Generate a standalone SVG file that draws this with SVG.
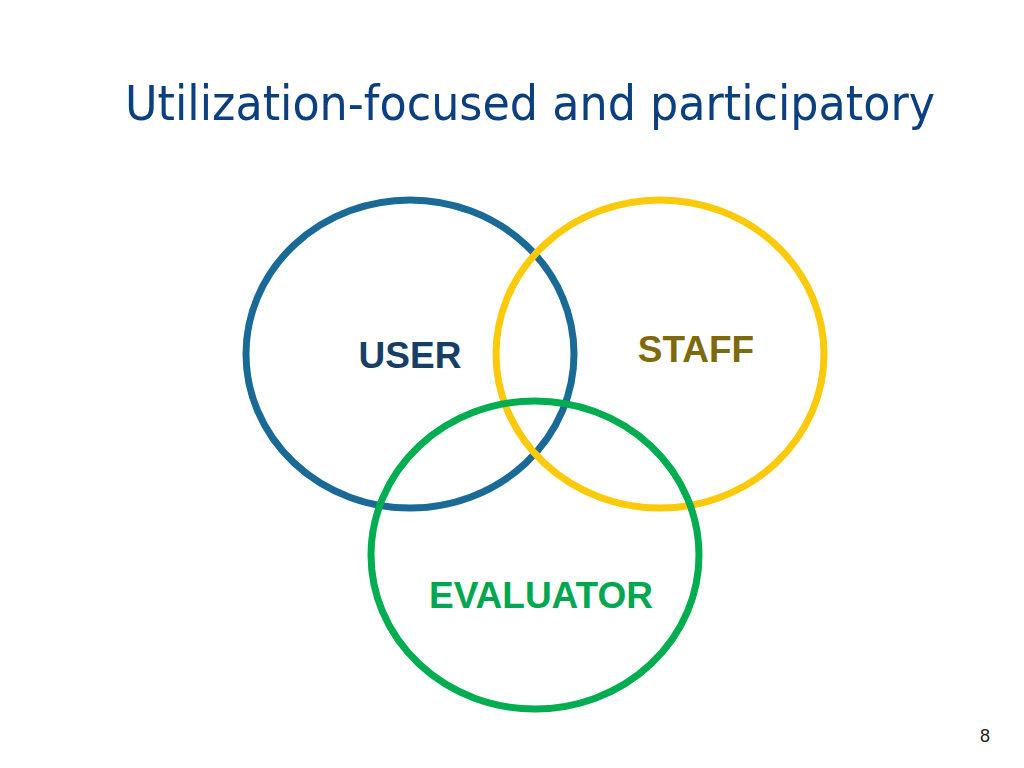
<svg xmlns="http://www.w3.org/2000/svg" width="1024" height="768" viewBox="0 0 1024 768">
<style>
.c{fill:none;stroke-width:7}
.l{font-family:"Liberation Sans",Arial,sans-serif;font-weight:bold;font-size:37px}
</style>
<rect width="1024" height="768" fill="#fff"/>
<text x="125" y="120" font-family="DejaVu Sans Condensed,'DejaVu Sans',sans-serif" font-size="48" fill="#0b3f80" textLength="810" lengthAdjust="spacingAndGlyphs">Utilization-focused and participatory</text>
<g id="user"><ellipse class="c" cx="410" cy="354" rx="164" ry="154" stroke="#1a6a98"/><text class="l" x="410" y="368" text-anchor="middle" fill="#173f66">USER</text></g>
<g id="staff"><ellipse class="c" cx="660" cy="354" rx="164" ry="154" stroke="#fcca0a"/><text class="l" x="696" y="362" text-anchor="middle" fill="#7d6a0c">STAFF</text></g>
<g id="evaluator"><ellipse class="c" cx="535" cy="555" rx="164" ry="154" stroke="#00ad50"/><text class="l" x="541" y="608" text-anchor="middle" fill="#00a650">EVALUATOR</text></g>
<g id="connectors"/>
<text x="985" y="742" font-family="Liberation Sans,Arial,sans-serif" font-size="18" fill="#222" text-anchor="middle">8</text>
</svg>
